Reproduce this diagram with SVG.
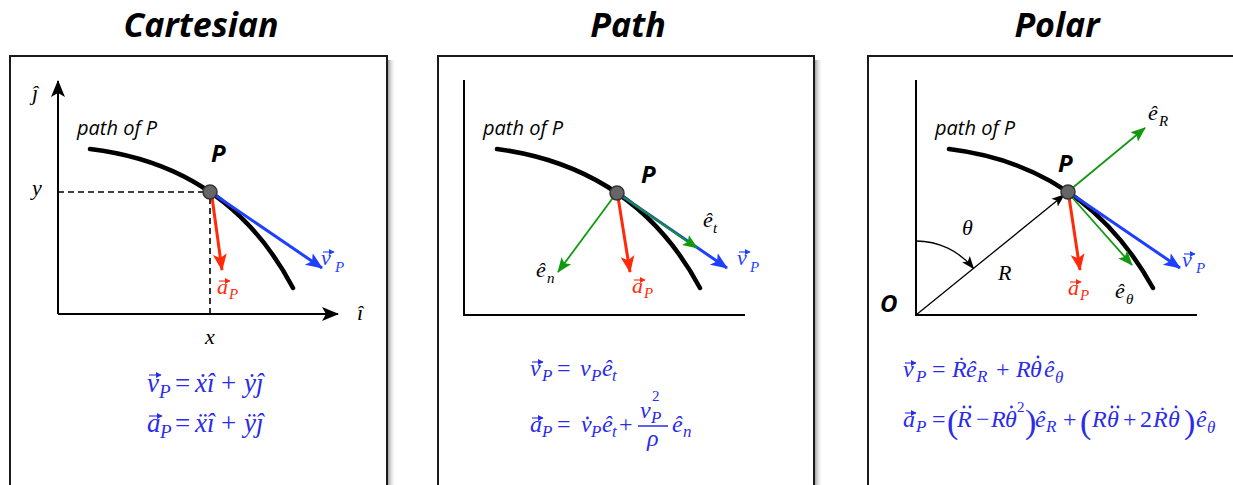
<svg xmlns="http://www.w3.org/2000/svg" width="1233" height="485" viewBox="0 0 1233 485">
<defs>
<style>
.title{font-family:"Open Sans",sans-serif;font-weight:bold;font-style:italic;font-size:34px;fill:#000;text-anchor:middle}
.box{fill:#fff;stroke:#1a1a1a;stroke-width:2}
.lbl{font-family:"Open Sans",sans-serif;font-style:italic;font-size:20px;fill:#000}
.pt{font-family:"Open Sans",sans-serif;font-style:italic;font-weight:bold;font-size:24px;fill:#000}
.m{font-family:"Liberation Serif","DejaVu Serif",serif;font-style:italic;font-size:22px}
.s{font-size:15px}
.f{font-family:"Liberation Serif","DejaVu Serif",serif;font-style:italic;font-size:24px;fill:#2b2bea}
.fc{font-size:27px}
.fs{font-size:17px}
.fcs{font-size:19px}
.sup{font-size:15px;font-style:normal}
.up{font-style:normal}
.big{font-style:normal;font-size:34px}
.curve{fill:none;stroke:#000;stroke-width:4.5;stroke-linecap:round}
.axis{fill:none;stroke:#000;stroke-width:2}
.dash{fill:none;stroke:#000;stroke-width:1.6;stroke-dasharray:6,4}
.blue{stroke:#1f3fff;stroke-width:3;fill:none;marker-end:url(#hb)}
.red{stroke:#ff2a0a;stroke-width:3;fill:none;marker-end:url(#hr)}
.green{stroke:#119911;stroke-width:1.8;fill:none;marker-end:url(#hg)}
.thin{stroke:#000;stroke-width:1.3;fill:none;marker-end:url(#hk)}
.dot{fill:#666;stroke:#333;stroke-width:1.5}
.ab{stroke:#1f3fff;stroke-width:1.1;fill:none;marker-end:url(#aab)}
.ar{stroke:#ff2a0a;stroke-width:1.1;fill:none;marker-end:url(#aar)}
.af{stroke:#2b2bea;stroke-width:1.1;fill:none;marker-end:url(#aaf)}
.fd{fill:#2b2bea}
</style>
<linearGradient id="sh" x1="0" y1="0" x2="1" y2="0">
<stop offset="0" stop-color="#888"/>
<stop offset="1" stop-color="#fff" stop-opacity="0"/>
</linearGradient>
<marker id="hb" markerUnits="userSpaceOnUse" markerWidth="18" markerHeight="16" refX="16" refY="8" orient="auto"><path d="M0,1 L17,8 L0,15 L4,8 z" fill="#1f3fff"/></marker>
<marker id="hr" markerUnits="userSpaceOnUse" markerWidth="18" markerHeight="16" refX="16" refY="8" orient="auto"><path d="M0,1 L17,8 L0,15 L4,8 z" fill="#ff2a0a"/></marker>
<marker id="hg" markerUnits="userSpaceOnUse" markerWidth="16" markerHeight="14" refX="14" refY="7" orient="auto"><path d="M0,1 L15,7 L0,13 L3,7 z" fill="#119911"/></marker>
<marker id="hk" markerUnits="userSpaceOnUse" markerWidth="14" markerHeight="12" refX="12" refY="6" orient="auto"><path d="M0,1 L13,6 L0,11 L3,6 z" fill="#000"/></marker>
<marker id="hax" markerUnits="userSpaceOnUse" markerWidth="18" markerHeight="16" refX="16" refY="8" orient="auto"><path d="M0,1 L17,8 L0,15 L4,8 z" fill="#000"/></marker>
<marker id="aab" markerUnits="userSpaceOnUse" markerWidth="6" markerHeight="6" refX="5" refY="3" orient="auto"><path d="M0,0 L5.5,3 L0,6 z" fill="#1f3fff"/></marker>
<marker id="aar" markerUnits="userSpaceOnUse" markerWidth="6" markerHeight="6" refX="5" refY="3" orient="auto"><path d="M0,0 L5.5,3 L0,6 z" fill="#ff2a0a"/></marker>
<marker id="aaf" markerUnits="userSpaceOnUse" markerWidth="6" markerHeight="6" refX="5" refY="3" orient="auto"><path d="M0,0 L5.5,3 L0,6 z" fill="#2b2bea"/></marker>
</defs>
<rect width="1233" height="485" fill="#fff"/>

<!-- Titles -->
<text class="title" x="201" y="37">Cartesian</text>
<text class="title" x="628" y="37">Path</text>
<text class="title" x="1057" y="37">Polar</text>

<!-- Cartesian panel -->
<g id="cartesian">
<rect x="387" y="60" width="9" height="440" fill="url(#sh)"/>
<rect class="box" x="10" y="56" width="377" height="450"/>
<text class="lbl" x="77" y="135">path of P</text>
<path class="axis" d="M58,314 V81" marker-end="url(#hax)"/>
<path class="axis" d="M58,314 H338" marker-end="url(#hax)"/>
<path class="dash" d="M58,192 H204"/>
<path class="dash" d="M210,198 V314"/>
<path class="curve" d="M90,149 Q228.5,165.5 293,288"/>
<text class="m" x="32" y="100">ĵ</text>
<text class="m" x="32" y="195">y</text>
<text class="m" x="205" y="344">x</text>
<text class="m" x="357" y="320">î</text>
<text class="pt" x="211" y="162">P</text>
<path class="red" d="M212,197 L222,270"/>
<path class="blue" d="M212,193 L322,268"/>
<circle class="dot" cx="210" cy="192" r="7"/>
<text class="m" fill="#1f3fff"><tspan x="321" y="265">v</tspan><tspan class="s" x="335" y="272">P</tspan></text>
<path class="ab" d="M323,252 H334"/>
<text class="m" fill="#ff2a0a"><tspan x="217" y="294">a</tspan><tspan class="s" x="229" y="299">P</tspan></text>
<path class="ar" d="M219,281 H230"/>
<text class="f fc"><tspan x="147" y="392">v</tspan><tspan class="fcs" x="159" y="398">P</tspan><tspan class="up" x="175" y="392">=</tspan><tspan x="195" y="392">ẋ</tspan><tspan x="207" y="392">î</tspan><tspan class="up" x="221" y="392">+</tspan><tspan x="244" y="392">ẏ</tspan><tspan x="256" y="392">ĵ</tspan></text>
<path class="af" d="M149,375 H161"/>
<text class="f fc"><tspan x="147" y="432">a</tspan><tspan class="fcs" x="160" y="438">P</tspan><tspan class="up" x="175" y="432">=</tspan><tspan x="195" y="432">ẍ</tspan><tspan x="207" y="432">î</tspan><tspan class="up" x="221" y="432">+</tspan><tspan x="244" y="432">ÿ</tspan><tspan x="256" y="432">ĵ</tspan></text>
<path class="af" d="M149,416 H162"/>
</g>

<!-- Path panel -->
<g id="path">
<rect x="814" y="60" width="9" height="440" fill="url(#sh)"/>
<rect class="box" x="438" y="56" width="376" height="450"/>
<path class="axis" d="M464,80 V315 H745"/>
<text class="lbl" x="483" y="135">path of P</text>
<path class="curve" d="M497,149 Q635.5,167.5 700,288"/>
<text class="pt" x="641" y="183">P</text>
<path class="green" d="M615,195 L558,272"/>
<path class="red" d="M618,197 L630,272"/>
<path class="blue" d="M619,194 L727,268"/>
<path class="green" d="M619,194 L697,248"/>
<circle class="dot" cx="617" cy="193" r="7"/>
<text class="m" fill="#000"><tspan x="703" y="227">ê</tspan><tspan class="s" x="713" y="233">t</tspan></text>
<text class="m" fill="#000"><tspan x="536" y="277">ê</tspan><tspan class="s" x="547" y="283">n</tspan></text>
<text class="m" fill="#ff2a0a"><tspan x="632" y="293">a</tspan><tspan class="s" x="644" y="298">P</tspan></text>
<path class="ar" d="M634,280 H645"/>
<text class="m" fill="#1f3fff"><tspan x="737" y="265">v</tspan><tspan class="s" x="750" y="272">P</tspan></text>
<path class="ab" d="M739,252 H750"/>
<text class="f"><tspan x="530" y="376">v</tspan><tspan class="fs" x="542" y="381">P</tspan><tspan class="up" x="557" y="376">=</tspan><tspan x="580" y="376">v</tspan><tspan class="fs" x="591" y="381">P</tspan><tspan x="602" y="376">ê</tspan><tspan class="fs" x="612" y="381">t</tspan></text>
<path class="af" d="M532,362 H543"/>
<text class="f"><tspan x="530" y="432">a</tspan><tspan class="fs" x="542" y="437">P</tspan><tspan class="up" x="557" y="432">=</tspan><tspan x="581" y="432">v</tspan><tspan class="fs" x="591" y="437">P</tspan><tspan x="602" y="432">ê</tspan><tspan class="fs" x="612" y="437">t</tspan><tspan class="up" x="619" y="432">+</tspan></text>
<text class="f"><tspan x="640" y="418">v</tspan><tspan class="fs" x="651" y="423">P</tspan></text>
<text class="f sup" x="652" y="401">2</text>
<text class="f" x="647" y="446">ρ</text>
<text class="f"><tspan x="672" y="432">ê</tspan><tspan class="fs" x="683" y="437">n</tspan></text>
<circle class="fd" cx="587.5" cy="418" r="1.4"/>
<path class="af" d="M532,418 H543"/>
<path d="M638,426 H668" stroke="#2b2bea" stroke-width="1.5"/>
</g>

<!-- Polar panel -->
<g id="polar">
<rect class="box" x="868" y="56" width="380" height="450"/>
<path class="axis" d="M916,80 V315 H1197"/>
<text class="lbl" x="935" y="135">path of P</text>
<path class="curve" d="M949,149 Q1085,165.5 1153,288"/>
<text class="pt" x="1058" y="172">P</text>
<text class="pt" x="880" y="312">O</text>
<path class="thin" d="M916,315 L1064,195"/>
<path class="thin" d="M916,241 A74,74 0 0 1 973.5,268.4"/>
<text class="m" x="962" y="235" fill="#000">θ</text>
<text class="m" x="998" y="280" fill="#000">R</text>
<path class="green" d="M1070,190 L1145,128"/>
<path class="red" d="M1069,197 L1080,270"/>
<path class="green" d="M1070,195 L1132,265"/>
<path class="blue" d="M1070,193 L1180,268"/>
<circle class="dot" cx="1068" cy="192" r="7"/>
<text class="m" fill="#000"><tspan x="1148" y="120">ê</tspan><tspan class="s" x="1159" y="126">R</tspan></text>
<text class="m" fill="#000"><tspan x="1115" y="298">ê</tspan><tspan class="s" x="1126" y="304">θ</tspan></text>
<text class="m" fill="#ff2a0a"><tspan x="1068" y="295">a</tspan><tspan class="s" x="1080" y="300">P</tspan></text>
<path class="ar" d="M1070,282 H1081"/>
<text class="m" fill="#1f3fff"><tspan x="1182" y="267">v</tspan><tspan class="s" x="1196" y="273">P</tspan></text>
<path class="ab" d="M1184,254 H1195"/>
<text class="f"><tspan x="903" y="377">v</tspan><tspan class="fs" x="916" y="382">P</tspan><tspan class="up" x="932" y="377">=</tspan><tspan x="952" y="377">Ṙ</tspan><tspan x="966" y="377">ê</tspan><tspan class="fs" x="977" y="382">R</tspan><tspan class="up" x="996" y="377">+</tspan><tspan x="1016" y="377">R</tspan><tspan x="1030" y="377">θ</tspan><tspan x="1044" y="377">ê</tspan><tspan class="fs" x="1055" y="383">θ</tspan></text>
<path class="af" d="M905,363 H916"/>
<circle class="fd" cx="1038" cy="357" r="1.4"/>
<text class="f"><tspan x="903" y="427">a</tspan><tspan class="fs" x="916" y="432">P</tspan><tspan class="up" x="932" y="427">=</tspan><tspan class="big" x="947" y="433">(</tspan><tspan x="957" y="427">R</tspan><tspan class="up" x="976" y="427">−</tspan><tspan x="991" y="427">R</tspan><tspan x="1005" y="427">θ</tspan><tspan class="sup" x="1017" y="412">2</tspan><tspan class="big" x="1025" y="433">)</tspan><tspan x="1035" y="427">ê</tspan><tspan class="fs" x="1046" y="432">R</tspan><tspan class="up" x="1063" y="427">+</tspan><tspan class="big" x="1080" y="433">(</tspan><tspan x="1092" y="427">R</tspan><tspan x="1107" y="427">θ</tspan><tspan class="up" x="1123" y="427">+</tspan><tspan class="up" x="1140" y="427">2</tspan><tspan x="1153" y="427">Ṙ</tspan><tspan x="1168" y="427">θ</tspan><tspan class="big" x="1184" y="433">)</tspan><tspan x="1196" y="427">ê</tspan><tspan class="fs" x="1207" y="433">θ</tspan></text>
<path class="af" d="M905,413 H916"/>
<circle class="fd" cx="964" cy="407" r="1.4"/><circle class="fd" cx="970" cy="407" r="1.4"/>
<circle class="fd" cx="1011.5" cy="407" r="1.4"/>
<circle class="fd" cx="1112" cy="407" r="1.4"/><circle class="fd" cx="1118" cy="407" r="1.4"/>
<circle class="fd" cx="1176" cy="407" r="1.4"/>
</g>
</svg>
